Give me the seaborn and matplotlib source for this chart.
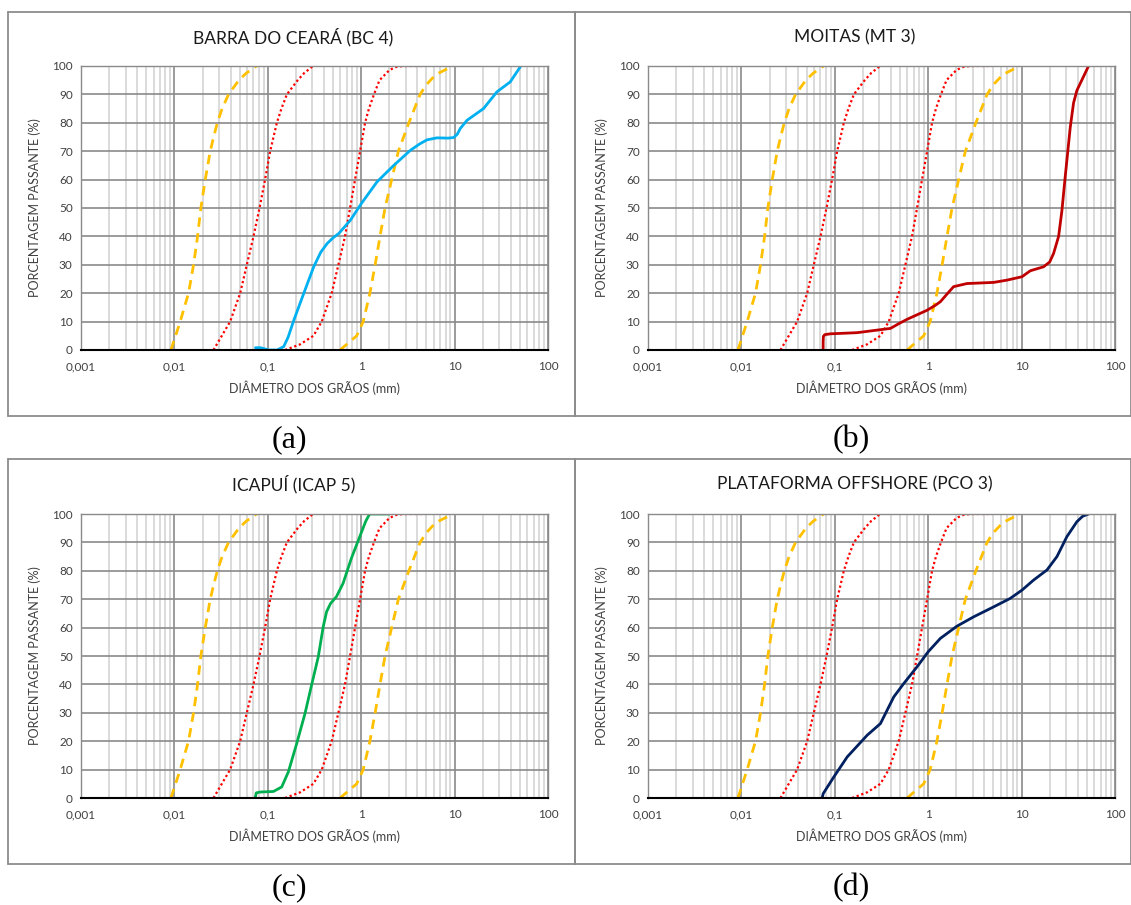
import numpy as np
import pandas as pd
import matplotlib
matplotlib.use("Agg")
import matplotlib.pyplot as plt
from matplotlib.lines import Line2D
from matplotlib.ticker import FixedLocator, LogLocator, NullFormatter
import seaborn as sns

# faixas granulométricas (mesmas nos quatro gráficos)
FAIXA_AMARELA_1_D = [0.00918, 0.01153, 0.01416, 0.01603, 0.0177, 0.0192, 0.0214, 0.0242, 0.0263, 0.0288,
                     0.0324, 0.0380, 0.0490, 0.0589, 0.0759]
FAIXA_AMARELA_1_P = [0, 10, 20, 30, 40, 50, 60, 70, 75, 80, 85, 90, 95, 97.5, 100]
FAIXA_VERMELHA_1_D = [0.0262, 0.0395, 0.0506, 0.0596, 0.0703, 0.0815, 0.0935, 0.106, 0.125, 0.140, 0.160,
                      0.209, 0.245, 0.305]
FAIXA_VERMELHA_1_P = [0, 10, 20, 30, 40, 50, 60, 70, 80, 85, 90, 95, 97.5, 100]
FAIXA_VERMELHA_2_D = [0.153, 0.222, 0.308, 0.378, 0.483, 0.570, 0.671, 0.760, 0.859, 0.973, 1.10, 1.21,
                      1.37, 1.57, 2.01, 2.34, 2.79, 4.8]
FAIXA_VERMELHA_2_P = [0, 2, 5, 10, 20, 30, 40, 50, 60, 70, 80, 85, 90, 95, 98.6, 99.6, 100, 100]
FAIXA_AMARELA_2_D = [0.594, 0.895, 1.05, 1.24, 1.41, 1.59, 1.80, 2.12, 2.50, 3.24, 4.27, 5.01, 6.31, 9.55]
FAIXA_AMARELA_2_P = [0, 5, 10, 20, 30, 40, 50, 60, 70, 80, 90, 93.5, 97, 100]

# amostras
BC4_D = [0.0738, 0.0836, 0.1026, 0.126, 0.148, 0.165, 0.190, 0.243, 0.310, 0.37, 0.432, 0.50, 0.574, 0.766,
         1.005, 1.476, 2.23, 3.36, 4.2, 5.06, 6.47, 8.5, 9.75, 10.7, 11.5, 13.6, 20.4, 28.4, 39.4, 51.2]
BC4_P = [0.8, 0.8, 0, 0, 1.2, 4.5, 10.5, 20, 29.3, 34.5, 37.5, 39.5, 41, 45.7,
         51.6, 59.2, 65, 70.3, 72.5, 74, 74.7, 74.6, 74.8, 76, 78, 80.9, 85, 90.9, 94.4, 100]
MT3_D = [0.075, 0.075, 0.0755, 0.078, 0.09, 0.173, 0.394, 0.48, 0.594, 0.973, 1.2, 1.35, 1.6, 1.87,
         2.60, 5.02, 6.97, 10.1, 12.4, 17.2, 20.0, 22.0, 24.9, 27.0, 29.3, 33.2, 36.0, 39.1, 52.1]
MT3_P = [0, 3, 4.8, 5.4, 5.7, 6.1, 7.6, 9.2, 10.8, 14, 15.8, 17, 19.8, 22.3,
         23.4, 23.8, 24.6, 25.8, 27.9, 29.3, 31, 34, 40, 49, 61, 78.5, 87, 91.4, 100]
ICAP5_D = [0.0733, 0.0752, 0.0828, 0.115, 0.141, 0.166, 0.204, 0.250, 0.294, 0.347, 0.392, 0.426,
           0.47, 0.543, 0.640, 0.785, 0.964, 1.12, 1.23, 2.0]
ICAP5_P = [0, 1.8, 2.1, 2.3, 3.9, 9.2, 19.2, 29.7, 39.7, 49.7, 60.3, 65.6,
           68.5, 70.9, 75.6, 84.4, 92, 97.5, 100, 100]
PCO3_D = [0.0733, 0.075, 0.0975, 0.136, 0.222, 0.308, 0.363, 0.428, 0.547, 0.760, 1.0, 1.35, 2.03,
          3.07, 5.02, 7.57, 10.1, 13.4, 18.7, 23.9, 30.5, 39.1, 45.0, 52.1]
PCO3_P = [0, 1.5, 7.4, 14.5, 22.1, 26.2, 30.9, 35.6, 40.3, 46.2, 51.5, 56.2, 60.5,
          63.8, 67.3, 70.3, 73.2, 76.7, 80.3, 85, 92, 97.3, 99.2, 100]

TITULOS = ["BARRA DO CEARÁ (BC 4)", "MOITAS (MT 3)", "ICAPUÍ (ICAP 5)", "PLATAFORMA OFFSHORE (PCO 3)"]
LETRAS = ["(a)", "(b)", "(c)", "(d)"]
AMOSTRAS = [(BC4_D, BC4_P), (MT3_D, MT3_P), (ICAP5_D, ICAP5_P), (PCO3_D, PCO3_P)]
CORES = ["#00B0F0", "#C00000", "#00B050", "#002060"]
X_TICKS = [0.001, 0.01, 0.1, 1, 10, 100]
X_LABELS = ["0,001", "0,01", "0,1", "1", "10", "100"]

sns.set_style("white")
plt.rcParams["font.family"] = ["Lato", "DejaVu Sans"]

W, H = 1131, 905
fig = plt.figure(figsize=(W / 100, H / 100), dpi=100)

# caixas (px): left, top, right, bottom
caixas = [(8, 12, 575, 416), (575, 12, 1131, 416), (8, 459, 575, 864), (575, 459, 1131, 864)]
eixos = [(81, 66, 548, 350), (648, 66, 1115, 350), (81, 514, 548, 798), (648, 514, 1115, 798)]


def fx(px):
    return px / W


def fy(py):
    return 1 - py / H


for i in range(4):
    l, t, r, b = caixas[i]
    # moldura do gráfico
    for xs, ys in [((l, r), (t, t)), ((l, r), (b, b)), ((l, l), (t, b)), ((r, r), (t, b))]:
        fig.add_artist(Line2D([fx(xs[0]), fx(xs[1])], [fy(ys[0]), fy(ys[1])],
                              color="#8c8c8c", lw=1.3, transform=fig.transFigure))
    fig.text(fx((l + r) / 2 + 2), fy(t + 25), TITULOS[i], ha="center", va="center",
             fontsize=12.5, color="#1a1a1a")
    fig.text(fx((l + r) / 2 - 2), fy(b + 24), LETRAS[i], ha="center", va="center",
             fontsize=23, family=["Liberation Serif", "DejaVu Serif"], color="black")

    al, at, ar, ab = eixos[i]
    ax = fig.add_axes([fx(al), fy(ab), fx(ar - al), (ab - at) / H])
    ax.set_xscale("log")
    ax.set_xlim(0.001, 100)
    ax.set_ylim(0, 100)

    # grade
    ax.xaxis.set_major_locator(FixedLocator(X_TICKS))
    ax.xaxis.set_minor_locator(LogLocator(base=10, subs=np.arange(2, 10)))
    ax.xaxis.set_minor_formatter(NullFormatter())
    ax.set_xticks(X_TICKS)
    ax.set_xticklabels(X_LABELS)
    ax.set_yticks(np.arange(0, 101, 10))
    ax.grid(which="minor", axis="x", color="#d4d4d4", lw=1.2)
    ax.grid(which="major", axis="x", color="#8a8a8a", lw=1.2)
    ax.grid(which="major", axis="y", color="#8a8a8a", lw=1.2)
    ax.set_axisbelow(True)
    ax.tick_params(axis="x", which="both", length=0, pad=8, labelsize=8.5, labelcolor="#404040")
    ax.tick_params(axis="y", length=3, color="#8a8a8a", width=1, pad=3, labelsize=8.5, labelcolor="#404040")
    for s in ["top", "right", "left"]:
        ax.spines[s].set_color("#8a8a8a")
        ax.spines[s].set_linewidth(1.0)
    ax.spines["bottom"].set_color("black")
    ax.spines["bottom"].set_linewidth(1.5)

    # faixas
    sns.lineplot(x=FAIXA_AMARELA_1_D, y=FAIXA_AMARELA_1_P, ax=ax, sort=False, estimator=None,
                 color="#FFC000", lw=2.0, linestyle=(0, (3.4, 2.3)), legend=False)
    sns.lineplot(x=FAIXA_AMARELA_2_D, y=FAIXA_AMARELA_2_P, ax=ax, sort=False, estimator=None,
                 color="#FFC000", lw=2.0, linestyle=(0, (3.4, 2.3)), legend=False)
    sns.lineplot(x=FAIXA_VERMELHA_1_D, y=FAIXA_VERMELHA_1_P, ax=ax, sort=False, estimator=None,
                 color="#FF0000", lw=1.6, linestyle=(0, (1, 1.2)), legend=False)
    sns.lineplot(x=FAIXA_VERMELHA_2_D, y=FAIXA_VERMELHA_2_P, ax=ax, sort=False, estimator=None,
                 color="#FF0000", lw=1.6, linestyle=(0, (1, 1.2)), legend=False)

    d, p = AMOSTRAS[i]
    sns.lineplot(x=d, y=p, ax=ax, sort=False, estimator=None, color=CORES[i], lw=2.0,
                 legend=False)

    ax.set_xlim(0.001, 100)
    ax.set_ylim(0, 100)
    ax.set_xlabel("DIÂMETRO DOS GRÃOS (mm)", fontsize=9, color="#404040", labelpad=6)
    ax.set_ylabel("PORCENTAGEM PASSANTE (%)", fontsize=9, color="#404040", labelpad=8)

fig.savefig("out.png", dpi=100)
